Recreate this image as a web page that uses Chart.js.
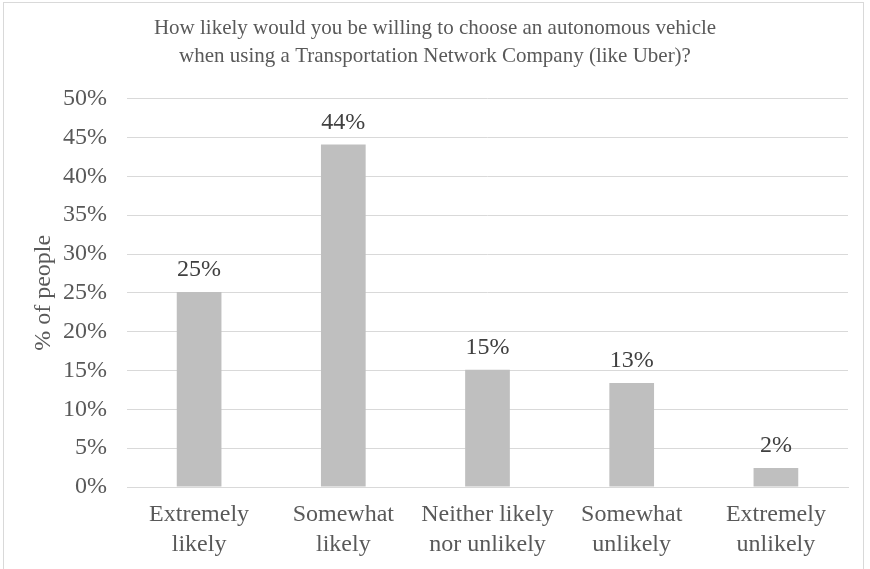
<!DOCTYPE html>
<html>
<head>
<meta charset="utf-8">
<script src="https://cdn.jsdelivr.net/npm/chart.js@4/dist/chart.umd.min.js"></script>
<style>
  html, body { margin: 0; padding: 0; background: #fff; }
  #wrap { width: 870px; height: 569px; position: relative; }
</style>
</head>
<body>
<div id="wrap"><canvas id="c" width="870" height="569"></canvas></div>
<script>
const titleLines = [
  "How likely would you be willing to choose an autonomous vehicle",
  "when using a Transportation Network Company (like Uber)?"
];
const categories = [
  ["Extremely", "likely"],
  ["Somewhat", "likely"],
  ["Neither likely", "nor unlikely"],
  ["Somewhat", "unlikely"],
  ["Extremely", "unlikely"]
];
const shares = [25.1, 44.1, 15.1, 13.4, 2.45];
const yAxisTitle = "% of people";
const yMin = 0, yMax = 50, yStep = 5;

const FONT = "'Liberation Serif', 'Times New Roman', serif";
const TEXT = "#595959";

const borderPlugin = {
  id: 'frame',
  beforeDraw(chart) {
    const ctx = chart.ctx;
    ctx.save();
    ctx.fillStyle = '#fff';
    ctx.fillRect(0, 0, chart.width, chart.height);
    ctx.strokeStyle = '#d9d9d9';
    ctx.lineWidth = 1;
    ctx.strokeRect(3.5, 2.5, 860, 620);
    ctx.restore();
  }
};

const labelPlugin = {
  id: 'valueLabels',
  afterDatasetsDraw(chart) {
    const ctx = chart.ctx;
    const meta = chart.getDatasetMeta(0);
    ctx.save();
    ctx.font = "24px " + FONT;
    ctx.fillStyle = "#404040";
    ctx.textAlign = 'center';
    ctx.textBaseline = 'alphabetic';
    meta.data.forEach((bar, i) => {
      const v = chart.data.datasets[0].data[i];
      ctx.fillText(Math.round(v) + "%", bar.x, bar.y - 16);
    });
    ctx.restore();
  }
};

new Chart(document.getElementById('c'), {
  type: 'bar',
  data: {
    labels: categories,
    datasets: [{
      data: shares,
      backgroundColor: '#bfbfbf',
      borderWidth: 0,
      categoryPercentage: 1,
      barPercentage: 0.31
    }]
  },
  options: {
    responsive: false,
    animation: false,
    layout: { padding: { left: 22, right: 22, top: 0, bottom: 0 } },
    plugins: {
      legend: { display: false },
      tooltip: { enabled: false },
      title: {
        display: true,
        text: titleLines,
        color: TEXT,
        font: { family: FONT, size: 21, weight: 'normal', lineHeight: 1.35 },
        padding: { top: 14, bottom: 28 }
      }
    },
    scales: {
      x: {
        grid: { display: false, drawTicks: false },
        border: { display: true, color: '#d9d9d9', width: 1 },
        ticks: {
          color: TEXT,
          font: { family: FONT, size: 24, lineHeight: 1.25 },
          padding: 13,
          maxRotation: 0,
          autoSkip: false
        },
        afterFit(s) { s.height = 82; }
      },
      y: {
        min: yMin,
        max: yMax,
        grid: { color: '#d9d9d9', lineWidth: 1, drawTicks: false },
        border: { display: false },
        ticks: {
          stepSize: yStep,
          color: TEXT,
          font: { family: FONT, size: 24 },
          padding: 20,
          callback: v => v + "%"
        },
        title: {
          display: true,
          text: yAxisTitle,
          color: TEXT,
          font: { family: FONT, size: 24 },
          padding: { top: 7, bottom: 0 }
        },
        afterFit(s) { s.width = 105; }
      }
    }
  },
  plugins: [borderPlugin, labelPlugin]
});
</script>
</body>
</html>
